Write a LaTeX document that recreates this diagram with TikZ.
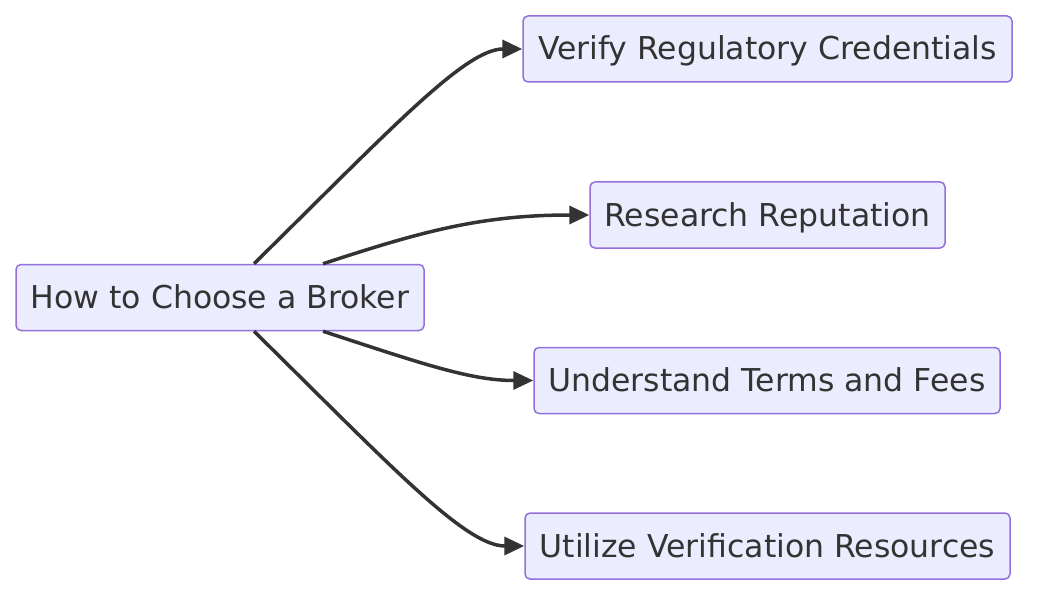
\documentclass[tikz,border=0pt]{standalone}
\usepackage{fontspec}
\setmainfont{DejaVu Sans}
\usetikzlibrary{arrows.meta}
\definecolor{nodefill}{HTML}{ECECFF}
\definecolor{nodeline}{HTML}{9370DB}
\definecolor{ink}{HTML}{333333}
\begin{document}
\begin{tikzpicture}[x=1pt,y=-1pt,
  box/.style={draw=nodeline,fill=nodefill,line width=1.5pt,rounded corners=5pt,
    inner sep=0pt,minimum height=66pt,text height=24pt,text depth=2pt,text=ink,font=\fontsize{31.5}{36}\selectfont},
  link/.style={draw=ink,line width=3.5pt,-{Triangle[length=20pt,width=18pt]}}]
\useasboundingbox (0,0) rectangle (1044,604);
\node[box,minimum width=408pt] (root) at (220,297.5) {How to Choose a Broker};
\node[box,minimum width=489pt] (a) at (767.5,49) {Verify Regulatory Credentials};
\node[box,minimum width=355pt] (b) at (767.5,215) {Research Reputation};
\node[box,minimum width=466pt] (c) at (767,380.5) {Understand Terms and Fees};
\node[box,minimum width=485pt] (d) at (767.5,546) {Utilize Verification Resources};
\coordinate (r1) at ([xshift=34pt]root.north);
\coordinate (r2) at ([xshift=103pt]root.north);
\coordinate (r3) at ([xshift=103pt]root.south);
\coordinate (r4) at ([xshift=34pt]root.south);
\draw[link] (r1) .. controls (390,130) and (465,49) .. (a.west);
\draw[link] (r2) .. controls (420,232) and (480,215) .. (b.west);
\draw[link] (r3) .. controls (420,363) and (470,380.5) .. (c.west);
\draw[link] (r4) .. controls (390,465) and (465,546) .. (d.west);
\end{tikzpicture}
\end{document}
